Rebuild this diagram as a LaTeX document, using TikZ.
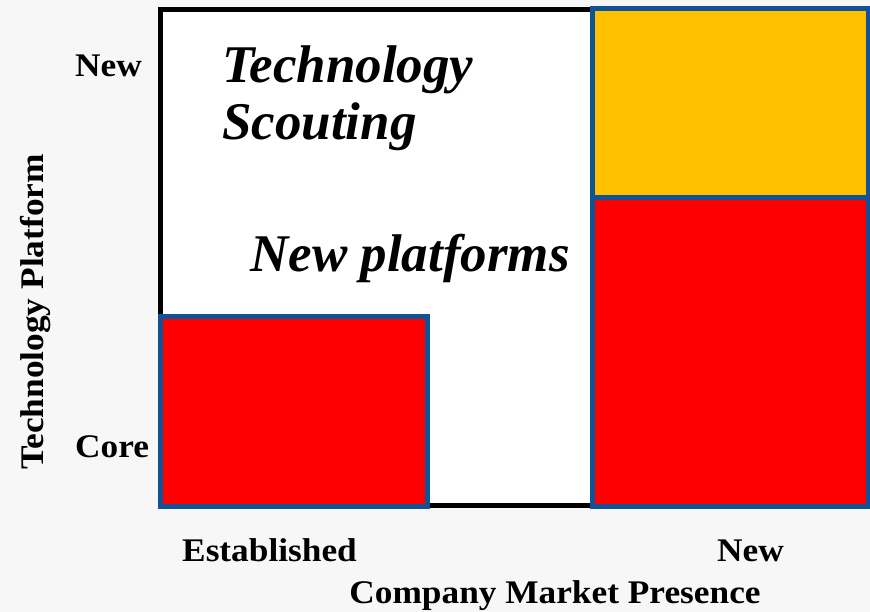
\documentclass[tikz,border=0pt]{standalone}
\usepackage{fontspec}
\setmainfont[FakeStretch=1.07]{Liberation Serif}
\newfontfamily\bigfont{Liberation Serif}
\usepackage{xcolor}
\definecolor{PaperGrey}{HTML}{F7F7F7}
\definecolor{EdgeBlue}{HTML}{105296}
\definecolor{ScoutAmber}{HTML}{FFC000}
\definecolor{HotRed}{HTML}{FF0000}
\usepackage{tikz}
\usetikzlibrary{positioning}

\begin{document}
\begin{tikzpicture}[x=1pt, y=-1pt,
    axislbl/.style={font=\fontsize{33}{39}\selectfont\bfseries, inner sep=0pt},
    biglbl/.style={font=\bigfont\fontsize{53}{60}\selectfont\bfseries\itshape, inner sep=0pt},
    field/.style={draw=EdgeBlue, line width=5pt, inner sep=0pt, outer sep=0pt, anchor=north west}]
        % Fond de page
        \fill[PaperGrey] (0,0) rectangle (870,612);
        \useasboundingbox (0,0) rectangle (870,612);

        % Cadre de la matrice (le bord droit passe sous les cases)
        \node[draw=black, fill=white, line width=5pt, inner sep=0pt, outer sep=0pt, anchor=north west,
              minimum width=432pt, minimum height=496pt] (frame) at (160.5,9.5) {};

        % Cases colorees
        \node[field, fill=HotRed, minimum width=267pt, minimum height=189pt] (coreold) at (160.5,317) {};
        \node[field, fill=ScoutAmber, minimum width=275.5pt, minimum height=189pt] (newnew) at (592.5,9) {};
        \node[field, fill=HotRed, minimum width=275.5pt, minimum height=308pt] (corenew) at (592.5,198) {};

        % Textes dans la matrice
        \node[biglbl, anchor=base west] (scoutA) at (222,83) {Technology};
        \node[biglbl, anchor=base west] (scoutB) at (222,140) {Scouting};
        \node[biglbl, anchor=base west] (platf) at (250,272) {New platforms};

        % Axes
        \node[axislbl, anchor=base west] (ynew) at (75,77) {New};
        \node[axislbl, anchor=base west] (ycore) at (75,457) {Core};
        \node[axislbl, anchor=base west] (xold) at (182,561) {Established};
        \node[axislbl, anchor=base west] (xnew) at (717,561) {New};
        \node[axislbl, anchor=base] (xtitle) at (555,603) {Company Market Presence};
        \node[axislbl, rotate=90, anchor=base] (ytitle) at (43,312) {Technology Platform};
    \end{tikzpicture}
\end{document}
